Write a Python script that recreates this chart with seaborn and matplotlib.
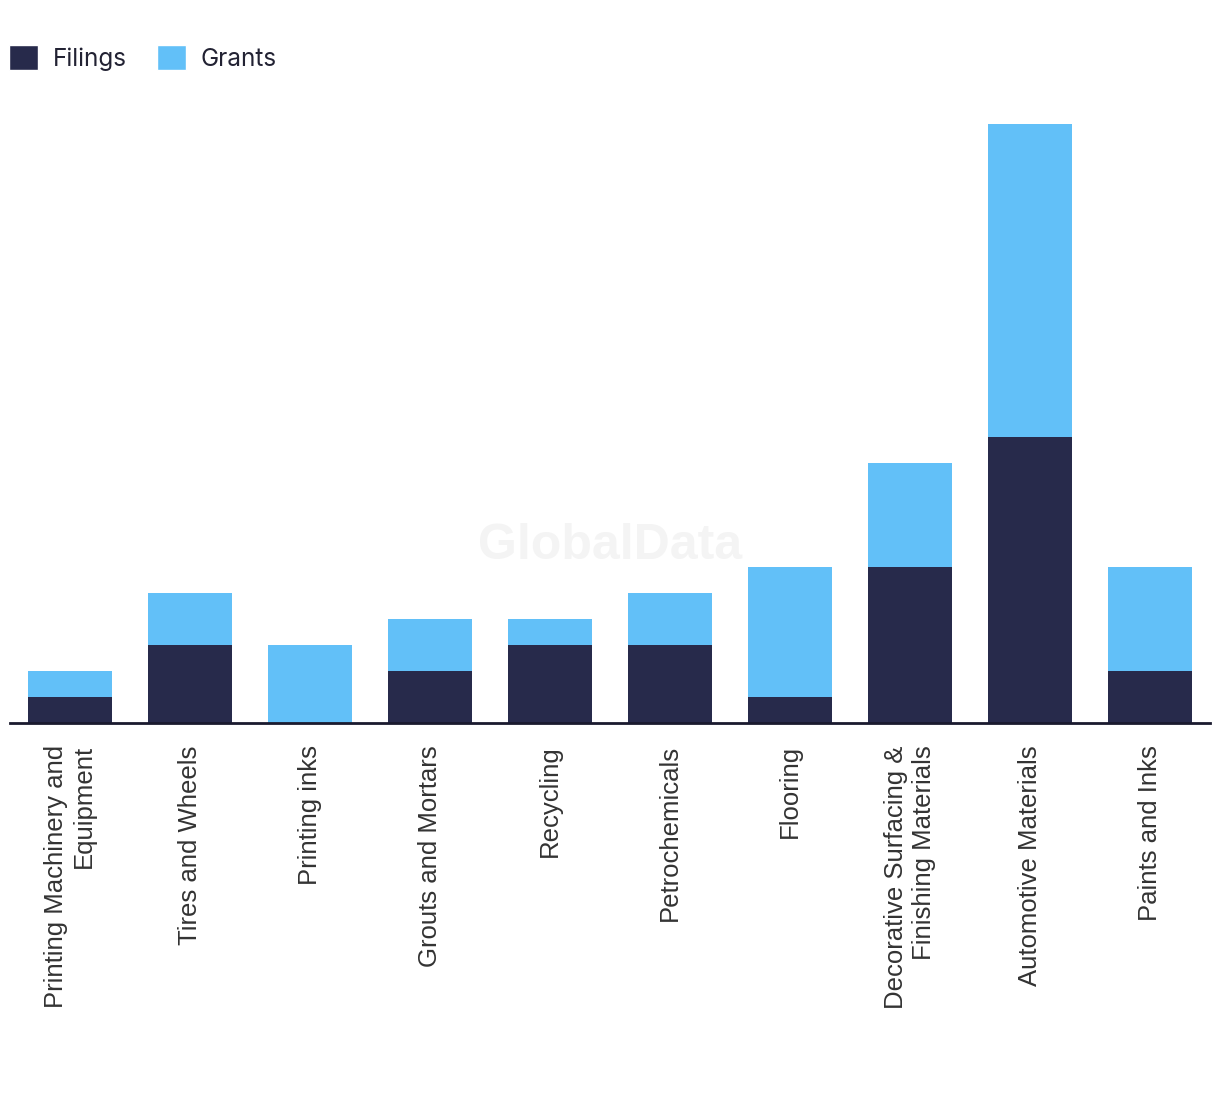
import matplotlib
matplotlib.use("Agg")
import matplotlib.pyplot as plt
import seaborn as sns
import pandas as pd
from matplotlib.patches import Patch

categories = ["Printing Machinery and\nEquipment", "Tires and Wheels", "Printing inks",
              "Grouts and Mortars", "Recycling", "Petrochemicals", "Flooring",
              "Decorative Surfacing &\nFinishing Materials", "Automotive Materials",
              "Paints and Inks"]
filings = [1, 3, 0, 2, 3, 3, 1, 6, 11, 2]
grants = [1, 2, 3, 2, 1, 2, 5, 4, 12, 4]

dark = "#272a4b"
light = "#62c0f8"

sns.set_theme(style="white")
plt.rcParams['font.family'] = ['Liberation Sans', 'DejaVu Sans']

df = pd.DataFrame({"cat": categories, "Filings": filings, "Grants": grants})
df["Total"] = df["Filings"] + df["Grants"]

fig = plt.figure(figsize=(12.2, 10.94), dpi=100)
ax = fig.add_axes([10/1220, (1094-723)/1094, 1200/1220, (723-100)/1094])

sns.barplot(data=df, x="cat", y="Total", color=light, width=0.7, saturation=1,
            linewidth=0, ax=ax)
sns.barplot(data=df, x="cat", y="Filings", color=dark, width=0.7, saturation=1,
            linewidth=0, ax=ax)

ax.set_xlim(-0.5, len(categories) - 0.5)
ax.set_ylim(0, 23 * 623 / 599)
ax.set_xlabel("")
ax.set_ylabel("")
ax.set_yticks([])
for s in ["top", "right", "left"]:
    ax.spines[s].set_visible(False)
ax.spines["bottom"].set_color("#1a1a2e")
ax.spines["bottom"].set_linewidth(2)
ax.spines["bottom"].set_zorder(5)
ax.tick_params(axis="x", length=0, pad=16)
ax.set_xticks(range(len(categories)))
ax.set_xticklabels(categories, rotation=90, fontsize=18.5, color="#333333",
                   ha="center", va="top", multialignment="right")

fig.text(610/1220, 1 - 546/1094, "GlobalData", ha="center", va="center",
         fontsize=36, fontweight="bold", color="#f4f4f4", zorder=0)

handles = [Patch(facecolor=dark, label="Filings"), Patch(facecolor=light, label="Grants")]
fig.legend(handles=handles, loc="upper left", bbox_to_anchor=(9/1220, 1 - 45/1094),
           ncol=2, frameon=False, handlelength=1.2, handleheight=1.2,
           handletextpad=0.6, columnspacing=1.25, borderaxespad=0.0, borderpad=0.0,
           prop={"family": "Inter", "size": 17.5}, labelcolor="#222233")

fig.savefig("out.png", dpi=100, facecolor="white")
